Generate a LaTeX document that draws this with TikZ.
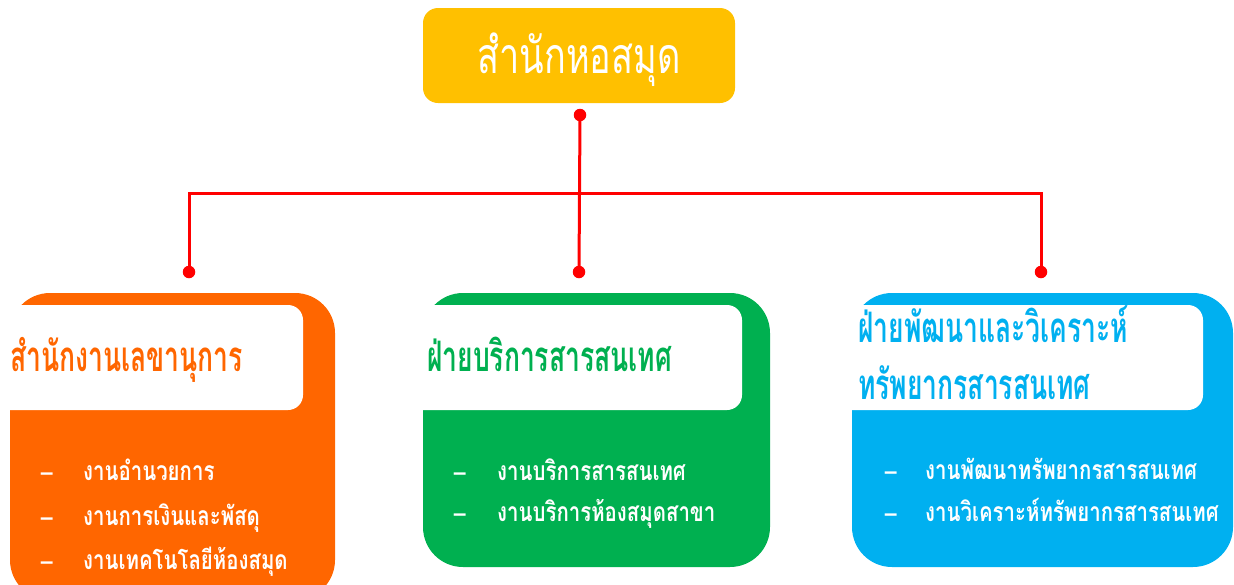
\documentclass[tikz,border=0pt]{standalone}
\usepackage{fontspec}
\newfontfamily\thaiT[Script=Thai,FakeStretch=0.72]{Loma}
\newfontfamily\thaiH[Script=Thai,FakeStretch=0.63]{Loma}
\newfontfamily\thaiB[Script=Thai,FakeStretch=0.77]{Loma}
\newfontfamily\dashfont{Liberation Sans}
\definecolor{cOrange}{HTML}{FF6600}
\definecolor{cGreen}{HTML}{00B050}
\definecolor{cBlue}{HTML}{00B0F0}
\definecolor{cYellow}{HTML}{FFC000}
\definecolor{cRed}{HTML}{FF0000}
\tikzset{
  topbox/.style={fill=cYellow, rounded corners=15pt, inner sep=0pt},
  unitbox/.style={rounded corners=40pt, inner sep=0pt},
  title/.style={anchor=base west, inner sep=0pt, font=\thaiH\bfseries\fontsize{42}{44}\selectfont},
  item/.style={anchor=base west, inner sep=0pt, text=white, font=\thaiB\bfseries\fontsize{26.5}{28}\selectfont},
  dashmark/.style={anchor=base west, inner sep=0pt, text=white, font=\dashfont\bfseries\fontsize{24}{26}\selectfont},
  link/.style={draw=cRed, line width=3pt},
  dot/.style={circle, fill=cRed, inner sep=0pt, minimum size=12.5pt}
}
\begin{document}
\begin{tikzpicture}[x=1pt,y=-1pt]
\useasboundingbox (0,0) rectangle (1234,584);
\begin{scope}
\clip (0,0) rectangle (1234,584);
% top box
\fill[topbox] (423,8) rectangle (735,103);
\node[anchor=base, inner sep=0pt, text=white, font=\thaiT\fontsize{50}{52}\selectfont] (lib) at (579,73) {สำนักหอสมุด};
% connectors
\coordinate (hl) at (189,193);
\coordinate (hr) at (1041,193);
\node[dot] (d0) at (580,115) {};
\node[dot] (d1) at (189,272) {};
\node[dot] (d2) at (579,272) {};
\node[dot] (d3) at (1041,272) {};
\draw[link] (d1.center) -- (hl) -- (hr) -- (d3.center);
\draw[link] (d0.center) -- (d2.center);
% left unit
\fill[cOrange, unitbox] (10,293) rectangle (335,600);
\fill[white] (10,305) -- (288,305) arc[start angle=-90,end angle=0,radius=15] -- (303,395) arc[start angle=0,end angle=90,radius=15] -- (10,410) -- cycle;
\node[title, text=cOrange] (t1) at (10,371) {สำนักงานเลขานุการ};
\node[dashmark] (m11) at (40,480) {–};
\node[item] (i11) at (83,480) {งานอำนวยการ};
\node[dashmark] (m12) at (40,525) {–};
\node[item] (i12) at (83,525) {งานการเงินและพัสดุ};
\node[dashmark] (m13) at (40,569) {–};
\node[item] (i13) at (83,569) {งานเทคโนโลยีห้องสมุด};
% middle unit
\fill[cGreen, unitbox] (423,293) rectangle (770,567);
\fill[white] (423,305) -- (727,305) arc[start angle=-90,end angle=0,radius=15] -- (742,395) arc[start angle=0,end angle=90,radius=15] -- (423,410) -- cycle;
\node[title, text=cGreen] (t2) at (427,371) {ฝ่ายบริการสารสนเทศ};
\node[dashmark] (m21) at (453,480) {–};
\node[item] (i21) at (497,480) {งานบริการสารสนเทศ};
\node[dashmark] (m22) at (453,521) {–};
\node[item] (i22) at (497,521) {งานบริการห้องสมุดสาขา};
% right unit
\fill[cBlue, unitbox] (852,293) rectangle (1233,567);
\fill[white] (852,305) -- (1188,305) arc[start angle=-90,end angle=0,radius=15] -- (1203,395) arc[start angle=0,end angle=90,radius=15] -- (852,410) -- cycle;
\node[title, text=cBlue] (t3a) at (858,342) {ฝ่ายพัฒนาและวิเคราะห์};
\node[title, text=cBlue] (t3b) at (858,399) {ทรัพยากรสารสนเทศ};
\node[dashmark] (m31) at (884,479) {–};
\node[item] (i31) at (925,479) {งานพัฒนาทรัพยากรสารสนเทศ};
\node[dashmark] (m32) at (884,521) {–};
\node[item] (i32) at (925,521) {งานวิเคราะห์ทรัพยากรสารสนเทศ};
\end{scope}
\end{tikzpicture}
\end{document}
